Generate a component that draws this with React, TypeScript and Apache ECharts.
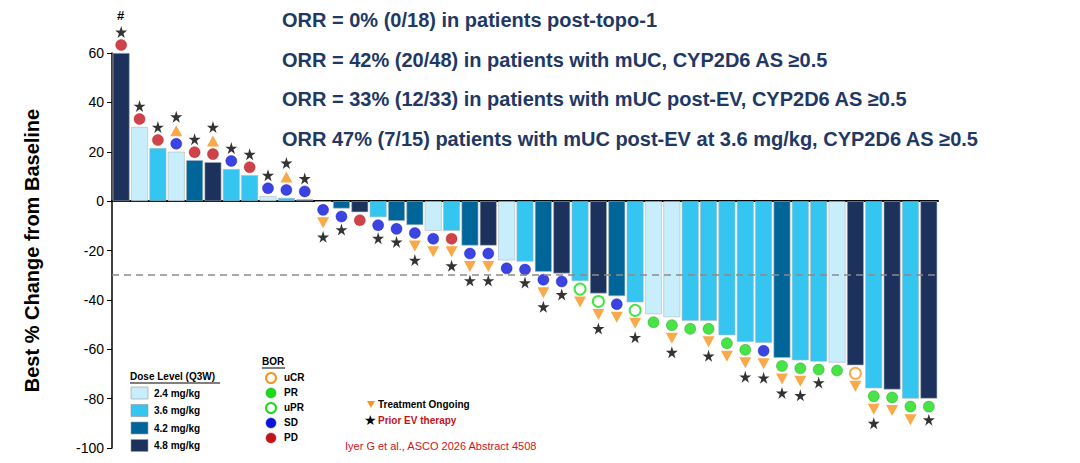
import React, { useEffect, useRef } from "react";
import * as echarts from "echarts";

// dose level per patient (mg/kg), ordered as in the waterfall
const doses = [
  4.8, 2.4, 3.6, 2.4, 4.2, 4.8, 3.6, 3.6, 2.4, 3.6, 4.8,
  3.6, 4.2, 4.8, 3.6, 4.2, 4.2, 2.4, 3.6, 4.2, 4.8,
  2.4, 3.6, 4.2, 4.8, 3.6, 4.8, 4.2, 3.6, 2.4, 2.4, 3.6, 3.6, 3.6, 3.6, 3.6,
  4.2, 3.6, 3.6, 2.4, 4.8, 3.6, 4.8, 3.6, 4.8,
];
const changes = [
  60, 30, 21.5, 20, 16.6, 15.8, 13, 10.5, 2, 1.3, 0.7,
  -0.3, -3, -4.5, -6.5, -8, -9.7, -12, -12, -18, -18,
  -24, -24.5, -28.6, -29.3, -32.4, -37.4, -38.5, -41, -45.8, -47, -48.5, -48.5, -54.3, -57, -57.4,
  -63.5, -64.5, -65, -65.4, -66.5, -75.8, -76.3, -80, -80,
];
const bor = [
  "PD", "PD", "PD", "SD", "PD", "PD", "SD", "PD", "SD", "SD", "SD",
  "SD", "SD", "PD", "SD", "SD", "SD", "SD", "PD", "SD", "SD",
  "SD", "SD", "SD", "SD", "uPR", "uPR", "SD", "uPR", "PR", "PR", "PR", "PR", "PR", "PR", "SD",
  "PR", "PR", "PR", "PR", "uCR", "PR", "PR", "PR", "PR",
];
const ongoing = [
  0, 0, 0, 1, 0, 1, 0, 0, 0, 1, 0,
  1, 0, 0, 0, 0, 1, 1, 1, 1, 1,
  0, 0, 1, 0, 1, 1, 1, 1, 0, 1, 0, 1, 1, 1, 1,
  1, 1, 0, 0, 1, 1, 1, 1, 0,
];
const priorEV = [
  1, 1, 1, 1, 1, 1, 1, 1, 1, 1, 1,
  1, 1, 0, 1, 1, 1, 0, 1, 1, 1,
  0, 1, 1, 1, 0, 1, 0, 1, 0, 1, 0, 1, 0, 1, 1,
  1, 1, 1, 0, 0, 1, 0, 0, 1,
];
const yTicks = [-100, -80, -60, -40, -20, 0, 20, 40, 60];
const orrLines = [
  "ORR = 0% (0/18) in patients post-topo-1",
  "ORR = 42% (20/48) in patients with mUC, CYP2D6 AS \u22650.5",
  "ORR = 33% (12/33) in patients with mUC post-EV, CYP2D6 AS \u22650.5",
  "ORR 47% (7/15) patients with mUC post-EV at 3.6 mg/kg, CYP2D6 AS \u22650.5",
];
const doseLevels = [2.4, 3.6, 4.2, 4.8];
const borLevels = ["uCR", "PR", "uPR", "SD", "PD"];

const doseColor: Record<number, string> = {
  2.4: "#c8eefc",
  3.6: "#35c5f1",
  4.2: "#006699",
  4.8: "#1c325c",
};
const borStyle: Record<string, { fill: string; stroke: string }> = {
  uCR: { fill: "#ffffff", stroke: "#f7941d" },
  PR: { fill: "#19dc19", stroke: "#0a9a0a" },
  uPR: { fill: "#ffffff", stroke: "#19dc19" },
  SD: { fill: "#0a14d8", stroke: "#0a14d8" },
  PD: { fill: "#c0141c", stroke: "#c0141c" },
};
const STAR =
  "path://M50,0 L61,35 L98,35 L68,57 L79,91 L50,70 L21,91 L32,57 L2,35 L39,35 Z";

const App: React.FC = () => {
  const ref = useRef<HTMLDivElement | null>(null);

  useEffect(() => {
    document.body.style.margin = "0";
    if (!ref.current) return;
    const chart = echarts.init(ref.current, null, { renderer: "svg" });
    const cats = changes.map((_, i) => String(i + 1));

    const borData: any[] = [];
    const triData: any[] = [];
    const starData: any[] = [];
    changes.forEach((v, i) => {
      const dir = v >= 0 ? -1 : 1;
      let off = 8;
      const s = borStyle[bor[i]];
      borData.push({
        value: [i, v],
        symbolOffset: [0, dir * off],
        itemStyle: { color: s.fill, borderColor: s.stroke, borderWidth: s.fill === "#ffffff" ? 2 : 0.5 },
      });
      off += 13;
      if (ongoing[i]) {
        triData.push({ value: [i, v], symbolOffset: [0, dir * off], symbolRotate: v >= 0 ? 0 : 180 });
        off += 14;
      }
      if (priorEV[i]) starData.push({ value: [i, v], symbolOffset: [0, dir * off] });
    });

    const g: any[] = [];
    orrLines.forEach((t, i) => {
      g.push({
        type: "text", left: 282, top: 10 + i * 39.5,
        style: { text: t, fill: "#1f3864", font: "bold 20px 'Liberation Sans', Arial" },
      });
    });
    g.push({
      type: "text", left: 130, top: 371,
      style: { text: "Dose Level (Q3W)", fill: "#000", font: "bold 10px 'Liberation Sans'" },
    });
    g.push({ type: "line", shape: { x1: 130, y1: 383, x2: 220, y2: 383 }, style: { stroke: "#000", lineWidth: 1 } });
    doseLevels.forEach((d, i) => {
      g.push({ type: "rect", shape: { x: 131, y: 387 + i * 17.5, width: 17, height: 12 }, style: { fill: doseColor[d], stroke: "#999", lineWidth: 0.6 } });
      g.push({ type: "text", left: 154, top: 388 + i * 17.5, style: { text: `${d} mg/kg`, fill: "#000", font: "bold 10px 'Liberation Sans'" } });
    });
    g.push({ type: "text", left: 262, top: 356, style: { text: "BOR", fill: "#000", font: "bold 10px 'Liberation Sans'" } });
    g.push({ type: "line", shape: { x1: 262, y1: 368, x2: 285, y2: 368 }, style: { stroke: "#000", lineWidth: 1 } });
    borLevels.forEach((b, i) => {
      const s = borStyle[b];
      const y = 378 + i * 15;
      g.push({ type: "circle", shape: { cx: 271, cy: y, r: 5 }, style: { fill: s.fill, stroke: s.stroke, lineWidth: s.fill === "#ffffff" ? 2 : 0.5 } });
      g.push({ type: "text", left: 284, top: y - 6, style: { text: b, fill: "#000", font: "bold 10px 'Liberation Sans'" } });
    });
    g.push({ type: "polygon", shape: { points: [[367, 401], [375, 401], [371, 408]] }, style: { fill: "#f7941d" } });
    g.push({ type: "text", left: 378, top: 399, style: { text: "Treatment Ongoing", fill: "#000", font: "bold 10px 'Liberation Sans'" } });
    g.push({ type: "text", left: 364, top: 413, style: { text: "\u2605", fill: "#000", font: "14px 'DejaVu Sans'" } });
    g.push({ type: "text", left: 378, top: 415, style: { text: "Prior EV therapy", fill: "#c0141c", font: "bold 10px 'Liberation Sans'" } });
    g.push({ type: "text", left: 345, top: 440, style: { text: "Iyer G et al., ASCO 2026 Abstract 4508", fill: "#d0141c", font: "11px 'Liberation Sans'" } });
    g.push({ type: "text", left: 117, top: 9, style: { text: "#", fill: "#000", font: "bold 13px 'Liberation Sans'" } });

    chart.setOption({
      animation: false,
      grid: { left: 112, right: 142, top: 53, bottom: 15 },
      xAxis: {
        type: "category", data: cats,
        axisLine: { onZero: true, lineStyle: { color: "#000", width: 2 } },
        axisTick: { show: false }, axisLabel: { show: false },
      },
      yAxis: {
        type: "value", min: -100, max: 60, interval: 20,
        name: "Best % Change from Baseline", nameLocation: "middle", nameGap: 70,
        nameTextStyle: { fontSize: 20, fontWeight: "bold", color: "#000", fontFamily: "Liberation Sans" },
        axisLine: { show: true, lineStyle: { color: "#000", width: 1.5 } },
        axisTick: { show: true, length: 5, lineStyle: { color: "#000" } },
        axisLabel: { color: "#000", fontSize: 14, fontFamily: "Liberation Sans", formatter: (v: number) => (yTicks.includes(v) ? String(v) : "") },
        splitLine: { show: false },
      },
      series: [
        {
          type: "bar", barCategoryGap: "8%",
          data: changes.map((v, i) => ({
            value: v,
            itemStyle: { color: doseColor[doses[i]], borderColor: "#b0b8c0", borderWidth: 0.6 },
          })),
          markLine: {
            silent: true, symbol: "none", label: { show: false },
            lineStyle: { color: "#8a8a8a", type: [7, 5], width: 1.5 },
            data: [{ yAxis: -30 }],
          },
        },
        { type: "scatter", symbol: "circle", symbolSize: 11, data: borData, z: 3 },
        { type: "scatter", symbol: "triangle", symbolSize: [12, 11], itemStyle: { color: "#f7941d" }, data: triData, z: 3 },
        { type: "scatter", symbol: STAR, symbolSize: 12, itemStyle: { color: "#000" }, data: starData, z: 3 },
      ],
      graphic: g,
    });
    return () => chart.dispose();
  }, []);

  return <div ref={ref} style={{ width: 1080, height: 463 }} />;
};

export default App;
